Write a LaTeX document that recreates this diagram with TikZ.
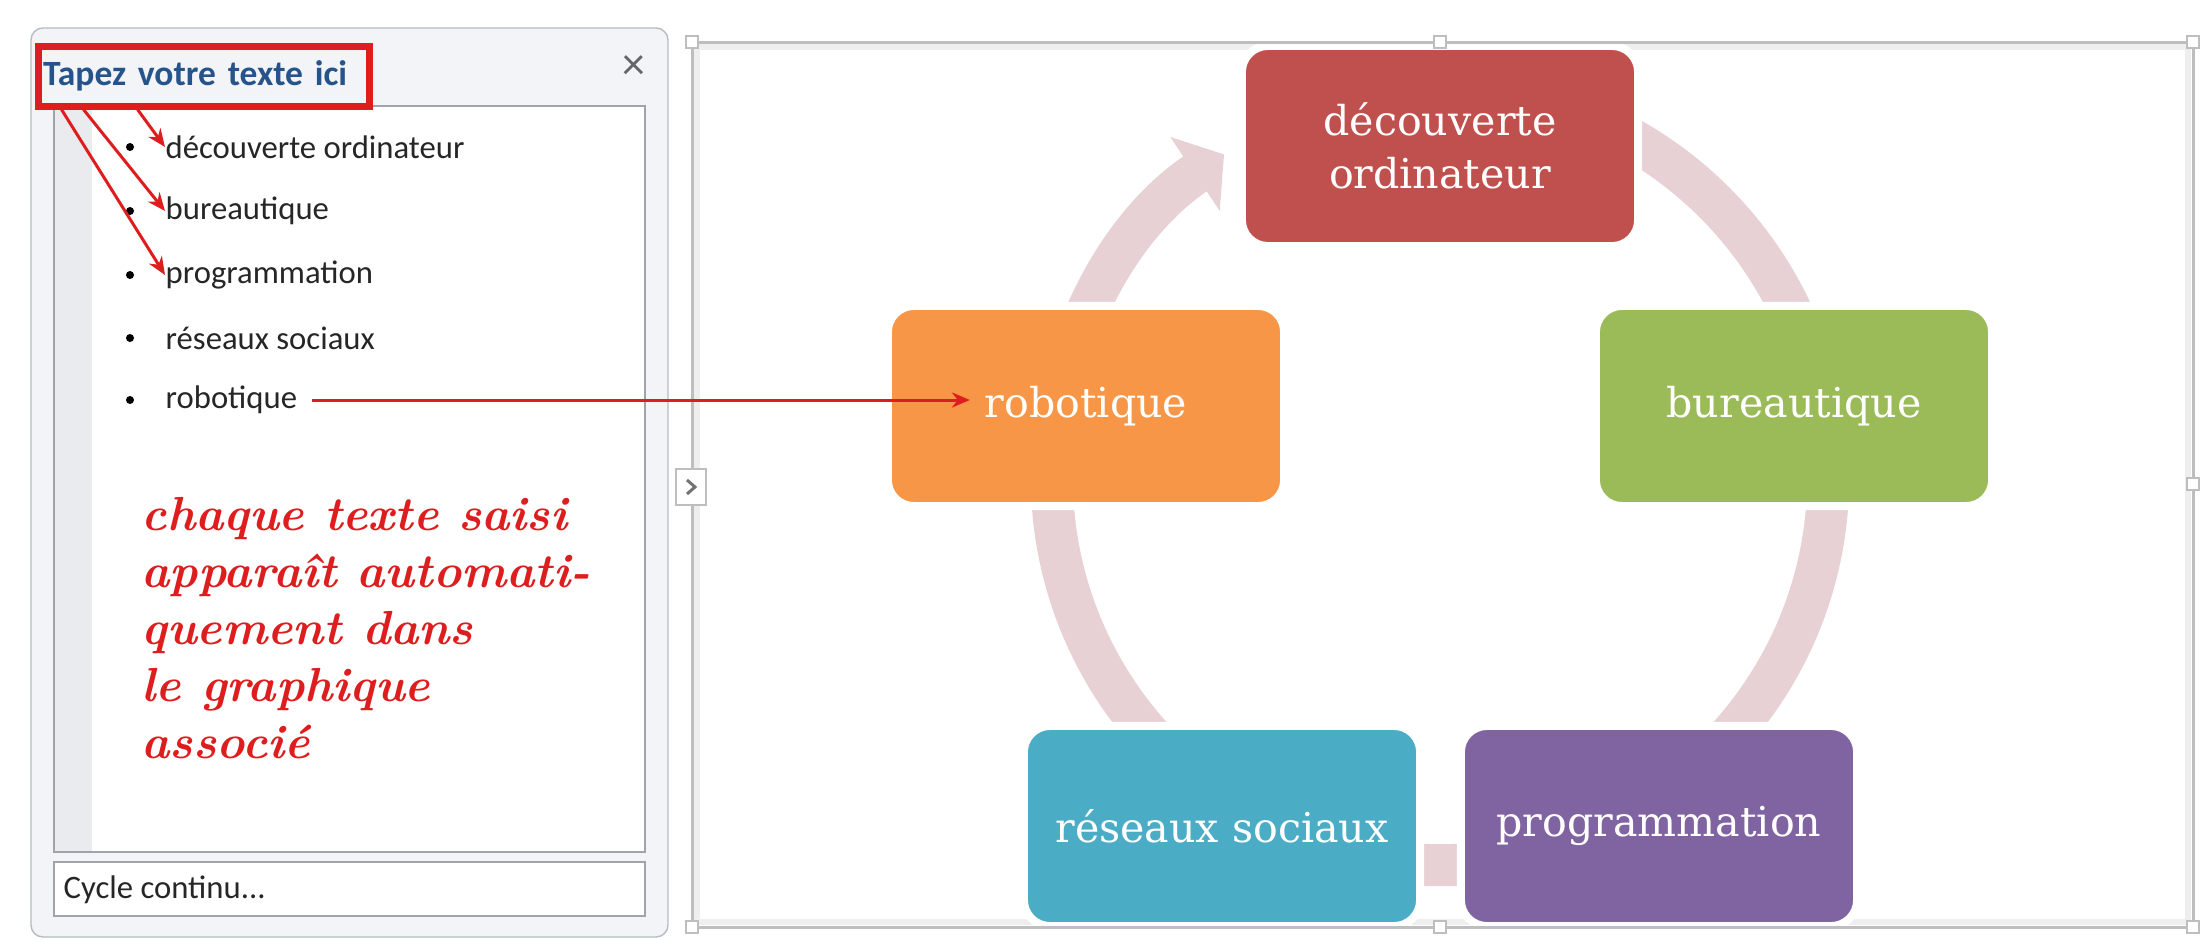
\documentclass[tikz,border=0pt]{standalone}
\usepackage{fontspec}
\usetikzlibrary{arrows.meta,positioning}
\newfontfamily\panelfont{Carlito}
\newfontfamily\boxfont{DejaVu Serif}
\definecolor{boxred}{RGB}{192,80,77}
\definecolor{boxgreen}{RGB}{155,187,89}
\definecolor{boxpurple}{RGB}{128,100,162}
\definecolor{boxteal}{RGB}{75,172,198}
\definecolor{boxorange}{RGB}{247,150,70}
\definecolor{ringpink}{RGB}{231,209,213}
\definecolor{markred}{RGB}{222,30,30}
\definecolor{titleblue}{RGB}{38,84,138}
\definecolor{panelbg}{RGB}{242,244,248}
\definecolor{panelline}{RGB}{182,188,196}
\definecolor{listline}{RGB}{160,164,170}
\definecolor{stripgrey}{RGB}{234,235,238}
\definecolor{framegrey}{RGB}{190,190,190}
\definecolor{framelight}{RGB}{238,238,238}
\tikzset{
  cyclebox/.style={rectangle, rounded corners=2.6mm, draw=white, line width=0.8mm,
    minimum width=3.96cm, minimum height=2.0cm, text=white, align=center,
    font=\boxfont\fontsize{11.7}{15}\selectfont},
  listitem/.style={anchor=west, inner sep=0pt, text=black!85,
    font=\panelfont\fontsize{9.3}{11}\selectfont},
  markarrow/.style={markred, line width=0.3mm, -{Stealth[length=1.8mm,width=1.5mm]}},
  handle/.style={framegrey, fill=white, line width=0.2mm},
}
\begin{document}
\begin{tikzpicture}[x=0.01cm, y=0.01cm]
            \path[use as bounding box, fill=white] (0,0) rectangle (2209,-939);
            % text pane
            \draw[panelline, fill=panelbg, rounded corners=1.2mm] (31,-28) rectangle (668,-937);
            \draw[listline, fill=white] (54,-106) rectangle (645,-852);
            \fill[stripgrey] (55,-107) rectangle (92,-851);
            \draw[listline, fill=white] (54,-862) rectangle (645,-916);
            \node[listitem] (cycletext) at (63,-890) {Cycle continu...};
            \node[anchor=north west, draw=markred, line width=0.7mm, fill=panelbg,
                  text width=3.21cm, inner xsep=0.5mm, minimum height=0.6cm,
                  text=titleblue, font=\panelfont\bfseries\fontsize{10.1}{12}\selectfont]
                  (title) at (34.5,-42.5) {Tapez votre texte ici};
            \node[text=black!60, font=\panelfont\fontsize{13}{14}\selectfont] (closex) at (634,-68) {×};
            \fill (130,-147) circle[radius=0.4mm];
            \fill (130,-211) circle[radius=0.4mm];
            \fill (130,-275) circle[radius=0.4mm];
            \fill (130,-338) circle[radius=0.4mm];
            \fill (130,-400) circle[radius=0.4mm];
            \node[listitem] (item1) at (165,-147) {découverte ordinateur};
            \node[listitem] (item2) at (165,-211) {bureautique};
            \node[listitem] (item3) at (165,-275) {programmation};
            \node[listitem] (item4) at (165,-338) {réseaux sociaux};
            \node[listitem] (item5) at (165,-400) {robotique};
            \node[anchor=north west, inner sep=0pt, align=left, text=markred,
                  font=\bfseries\itshape\fontsize{13.6}{16.2}\selectfont]
                  (note) at (141,-497) {chaque texte saisi\\apparaît automati-\\quement dans\\le graphique\\associé};
            % diagram frame
            \draw[framelight, line width=0.6mm] (697,-47) rectangle (2188,-922);
            % cycle
            \coordinate (hub) at (1440,-477);
            \draw[ringpink, line width=4.2mm, -{Triangle[length=3.5mm,width=8.7mm]}]
                  ([shift={(90:3.88cm)}]hub) arc[start angle=90, end angle=-236.2, radius=3.88cm];
            \node[cyclebox, fill=boxred] (decouverte) at (1440,-146) {découverte\\ordinateur};
            \node[cyclebox, fill=boxgreen] (bureautique) at (1794,-406) {bureautique};
            \node[cyclebox, fill=boxpurple] (programmation) at (1659,-826) {programmation};
            \node[cyclebox, fill=boxteal] (reseaux) at (1222,-826) {réseaux sociaux};
            \node[cyclebox, fill=boxorange] (robotique) at (1086,-406) {robotique};
            \draw[framegrey, line width=0.3mm] (692,-42) rectangle (2193,-927);
            \foreach \hx/\hy in {692/-42, 1440/-42, 2193/-42, 2193/-484, 2193/-927, 1440/-927, 692/-927}
              \draw[handle] (\hx-6,\hy-6) rectangle ++(12,12);
            \draw[handle] (676,-469) rectangle (706,-505);
            \draw[black!55, line width=0.3mm] (687,-480) -- (695,-487) -- (687,-494);
            % red marks
            \coordinate (robotip) at (item5.east -| robotique.west);
            \draw[markarrow] ([xshift=10.3mm]title.south west) -- (item1.west);
            \draw[markarrow] ([xshift=4.9mm]title.south west) -- (item2.west);
            \draw[markarrow] ([xshift=2.7mm]title.south west) -- (item3.west);
            \draw[markarrow] ([xshift=1.4mm]item5.east) -- ([xshift=8.6mm]robotip);
        \end{tikzpicture}
\end{document}
